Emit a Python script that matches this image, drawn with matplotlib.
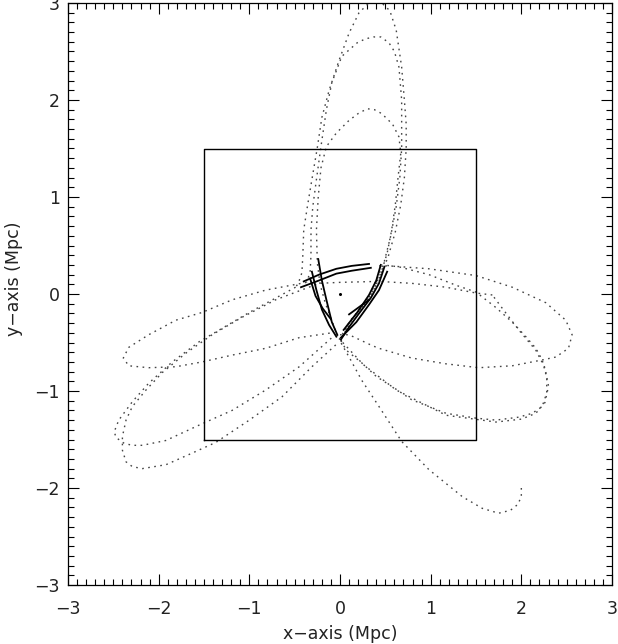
import matplotlib
matplotlib.use("Agg")
import matplotlib.pyplot as plt
from matplotlib.ticker import MultipleLocator

# dotted orbit lobes, (x, y) in Mpc
lobe_b = [(2.00, -2.00), (2.00, -2.09), (1.96, -2.17), (1.88, -2.23), (1.75, -2.26),
          (1.57, -2.21), (1.35, -2.09), (0.98, -1.81), (0.68, -1.52), (0.43, -1.16),
          (0.24, -0.89), (0.10, -0.65), (-0.01, -0.47)]
lobe_u1 = [(-0.01, -0.47), (0.12, -0.27), (0.26, -0.12), (0.36, 0.02), (0.45, 0.20),
           (0.53, 0.38), (0.61, 0.64), (0.67, 0.92), (0.71, 1.20), (0.73, 1.50),
           (0.73, 1.75), (0.71, 2.00), (0.68, 2.34), (0.62, 2.72), (0.55, 2.92),
           (0.45, 3.01), (0.33, 3.01), (0.21, 2.90), (0.10, 2.69), (-0.01, 2.41),
           (-0.12, 2.10), (-0.20, 1.82), (-0.25, 1.51), (-0.31, 1.18), (-0.36, 0.90),
           (-0.40, 0.66), (-0.41, 0.40), (-0.42, 0.22), (-0.46, 0.11), (-0.49, 0.07)]
lobe_u2 = [(0.01, -0.49), (0.10, -0.29), (0.23, -0.14), (0.33, 0.00), (0.42, 0.18),
           (0.49, 0.34), (0.56, 0.60), (0.62, 0.90), (0.66, 1.20), (0.68, 1.50),
           (0.68, 1.80), (0.68, 2.00), (0.65, 2.34), (0.60, 2.50), (0.54, 2.59),
           (0.45, 2.65), (0.37, 2.65), (0.28, 2.63), (0.19, 2.59), (0.02, 2.45),
           (-0.09, 2.18), (-0.15, 1.90), (-0.21, 1.52), (-0.26, 1.18), (-0.30, 0.90),
           (-0.32, 0.66), (-0.32, 0.40), (-0.33, 0.22), (-0.37, 0.12)]
lobe_u3 = [(0.02, -0.45), (0.14, -0.25), (0.28, -0.10), (0.38, 0.06), (0.46, 0.24),
           (0.52, 0.42), (0.57, 0.66), (0.61, 0.92), (0.64, 1.20), (0.67, 1.45),
           (0.65, 1.62), (0.58, 1.75), (0.46, 1.86), (0.38, 1.90), (0.30, 1.91),
           (0.20, 1.86), (0.10, 1.79), (-0.04, 1.66), (-0.15, 1.52), (-0.21, 1.30),
           (-0.24, 1.00), (-0.26, 0.66), (-0.25, 0.32), (-0.22, 0.10), (-0.16, -0.10),
           (-0.08, -0.30), (-0.02, -0.45)]
lobe_l1 = [(-0.49, 0.07), (-1.00, -0.19), (-1.55, -0.49), (-1.85, -0.70), (-2.11, -0.92),
           (-2.29, -1.11), (-2.44, -1.30), (-2.49, -1.42), (-2.47, -1.48), (-2.38, -1.54),
           (-2.29, -1.56), (-2.18, -1.56), (-1.92, -1.51), (-1.55, -1.35), (-1.19, -1.20),
           (-0.82, -0.99), (-0.45, -0.75), (-0.09, -0.45)]
lobe_l2 = [(1.68, -0.01), (1.50, 0.01), (1.17, 0.07), (0.79, 0.11), (0.43, 0.13),
           (0.00, 0.12), (-0.23, 0.11), (-0.71, -0.06), (-1.08, -0.24), (-1.41, -0.42),
           (-1.70, -0.61), (-1.96, -0.81), (-2.14, -0.99), (-2.29, -1.16), (-2.36, -1.30),
           (-2.40, -1.47), (-2.40, -1.61), (-2.36, -1.73), (-2.29, -1.78), (-2.18, -1.80),
           (-1.92, -1.76), (-1.63, -1.64), (-1.37, -1.53), (-1.00, -1.30), (-0.64, -1.06),
           (-0.31, -0.75), (-0.03, -0.51)]
lobe_l3 = [(-0.37, 0.12), (-0.82, 0.04), (-1.19, -0.06), (-1.52, -0.19), (-1.81, -0.27),
           (-2.11, -0.42), (-2.33, -0.55), (-2.39, -0.66), (-2.33, -0.74), (-2.11, -0.76),
           (-1.81, -0.75), (-1.52, -0.70), (-1.19, -0.63), (-0.82, -0.56), (-0.45, -0.45),
           (-0.09, -0.40)]
lobe_a = [(0.00, -0.42), (0.10, -0.42), (0.35, -0.53), (0.43, -0.56), (0.79, -0.66),
          (1.17, -0.72), (1.53, -0.76), (1.90, -0.74), (2.23, -0.68), (2.38, -0.65),
          (2.52, -0.56), (2.56, -0.42), (2.49, -0.27), (2.27, -0.09), (1.90, 0.07),
          (1.50, 0.19), (0.98, 0.26), (0.54, 0.29), (0.40, 0.29)]
lobe_c1 = [(0.01, -0.48), (0.07, -0.58), (0.24, -0.71), (0.40, -0.85), (0.60, -0.97),
           (0.79, -1.09), (1.17, -1.23), (1.50, -1.28), (1.72, -1.30), (1.97, -1.27),
           (2.12, -1.23), (2.23, -1.16), (2.28, -1.02), (2.28, -0.86), (2.23, -0.68),
           (2.16, -0.56), (2.05, -0.44), (1.90, -0.29), (1.72, -0.14), (1.50, 0.02),
           (1.28, 0.09), (0.98, 0.20), (0.65, 0.28), (0.47, 0.30)]
lobe_c2 = [(0.03, -0.50), (0.26, -0.73), (0.62, -0.99), (1.17, -1.25), (1.72, -1.32),
           (2.00, -1.29), (2.16, -1.23), (2.26, -1.12), (2.30, -0.95), (2.26, -0.76),
           (2.16, -0.58), (1.98, -0.38), (1.80, -0.16), (1.68, -0.01)]

# solid arcs near the centre
arc_top1 = [(-0.40, 0.13), (-0.23, 0.20), (-0.04, 0.26), (0.13, 0.29), (0.32, 0.31)]
arc_top2 = [(-0.43, 0.07), (-0.23, 0.14), (-0.04, 0.21), (0.13, 0.24), (0.34, 0.27)]
arc_left1 = [(-0.24, 0.36), (-0.20, 0.14), (-0.15, -0.06), (-0.09, -0.29), (-0.03, -0.42)]
arc_left2 = [(-0.31, 0.23), (-0.26, 0.04), (-0.20, -0.16), (-0.12, -0.32), (-0.04, -0.44)]
arc_left3 = [(-0.33, 0.16), (-0.27, -0.02), (-0.19, -0.15), (-0.10, -0.26)]
arc_right1 = [(0.49, 0.28), (0.43, 0.11), (0.34, -0.04), (0.21, -0.20), (0.10, -0.34), (0.01, -0.47)]
arc_right2 = [(0.45, 0.30), (0.40, 0.14), (0.32, -0.01), (0.19, -0.19), (0.04, -0.37)]
arc_right3 = [(0.52, 0.23), (0.43, 0.04), (0.32, -0.11), (0.18, -0.29), (0.01, -0.45)]
arc_short = [(0.10, -0.21), (0.32, -0.06)]

centre = (0.0, 0.0)
box = [(-1.5, -1.5), (1.5, -1.5), (1.5, 1.5), (-1.5, 1.5), (-1.5, -1.5)]

dotted = [lobe_b, lobe_u1, lobe_u2, lobe_u3, lobe_l1, lobe_l2, lobe_l3,
          lobe_a, lobe_c1, lobe_c2]
solid = [arc_top1, arc_top2, arc_left1, arc_left2, arc_left3,
         arc_right1, arc_right2, arc_right3, arc_short]

fig = plt.figure(figsize=(6.18, 6.44), dpi=100)
ax = fig.add_axes([68 / 618, 59 / 644, 544 / 618, 582 / 644])

for curve in dotted:
    xs, ys = zip(*curve)
    ax.plot(xs, ys, color='#444444', lw=1.0, linestyle=(0, (1.2, 3.2)))

for curve in solid:
    xs, ys = zip(*curve)
    ax.plot(xs, ys, color='black', lw=1.3)

bx, by = zip(*box)
ax.plot(bx, by, color='black', lw=1.0)
ax.plot([centre[0]], [centre[1]], 'o', color='black', ms=1.2)

ax.set_xlim(-3, 3)
ax.set_ylim(-3, 3)
ax.xaxis.set_major_locator(MultipleLocator(1))
ax.yaxis.set_major_locator(MultipleLocator(1))
ax.xaxis.set_minor_locator(MultipleLocator(0.1))
ax.yaxis.set_minor_locator(MultipleLocator(0.1))
ax.tick_params(which='both', direction='in', top=True, right=True, width=0.8,
               labelsize=12.5, labelcolor='#222222')
ax.tick_params(which='major', length=8)
ax.tick_params(which='minor', length=4)
ax.tick_params(axis='x', pad=11)
ax.tick_params(axis='y', pad=6)
for s in ax.spines.values():
    s.set_linewidth(0.9)

ax.set_xlabel('x\u2212axis (Mpc)', fontsize=12.5, color='#222222')
ax.set_ylabel('y\u2212axis (Mpc)', fontsize=12.5, color='#222222')
ax.xaxis.set_label_coords(0.5, -0.068)
ax.yaxis.set_label_coords(-0.082, 0.526)

fig.savefig('out.png', dpi=100)
